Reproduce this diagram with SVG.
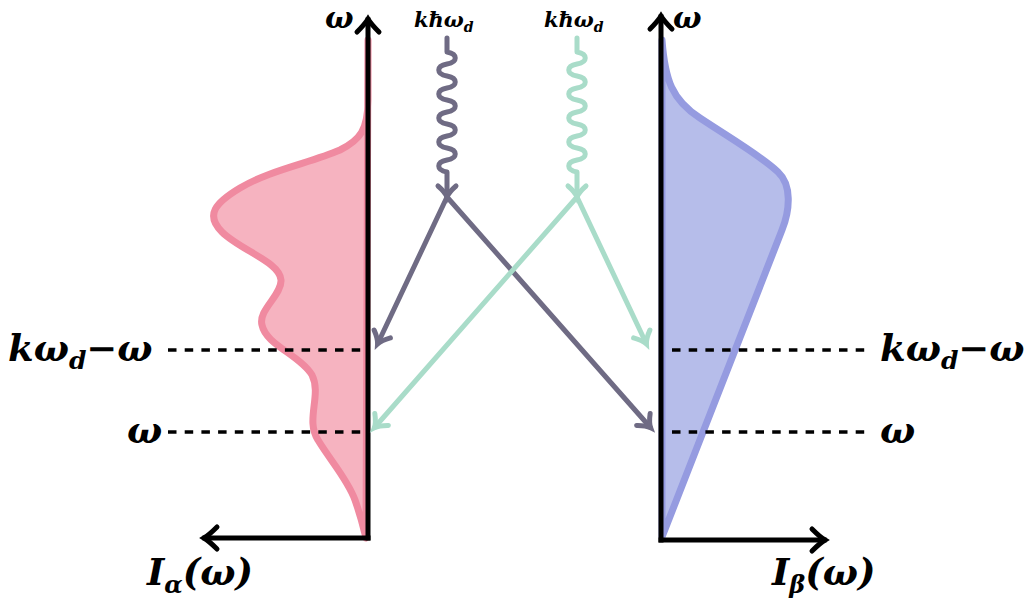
<svg xmlns="http://www.w3.org/2000/svg" width="1036" height="603" viewBox="0 0 1036 603">
<style>
.axis{fill:none;stroke:#000;stroke-width:5;stroke-linecap:square}
.dash{fill:none;stroke:#000;stroke-width:3.5;stroke-dasharray:8.5 8.2}
.m{font-family:"DejaVu Serif","Liberation Serif",serif;font-style:italic;font-weight:bold;fill:#000}
.dk{fill:none;stroke:#6f6b84;stroke-width:5;stroke-linecap:round;stroke-linejoin:round}
.tl{fill:none;stroke:#a9dcc9;stroke-width:5;stroke-linecap:round;stroke-linejoin:round}
</style>
<defs>
<marker id="mb" markerUnits="userSpaceOnUse" markerWidth="30" markerHeight="30" refX="0" refY="0" orient="auto" overflow="visible">
<path d="M-12,-11 Q-4,-3 1,0 Q-4,3 -12,11" fill="none" stroke="#000" stroke-width="5" stroke-linecap="round"/>
</marker>
<marker id="md" markerUnits="userSpaceOnUse" markerWidth="30" markerHeight="30" refX="0" refY="0" orient="auto" overflow="visible">
<path d="M-10,-9 Q-4,-2 1,0 Q-4,2 -10,9" fill="none" stroke="#6f6b84" stroke-width="5" stroke-linecap="round"/>
</marker>
<marker id="mt" markerUnits="userSpaceOnUse" markerWidth="30" markerHeight="30" refX="0" refY="0" orient="auto" overflow="visible">
<path d="M-10,-9 Q-4,-2 1,0 Q-4,2 -10,9" fill="none" stroke="#a9dcc9" stroke-width="5" stroke-linecap="round"/>
</marker>
</defs>

<g id="alpha-spectrum">
<path d="M368 40 L368 100 C368 130 360 140 340 150 C310 163 270 170 240 188 C215 203 205 215 222 232 C240 250 280 262 281 280 C282 295 258 310 262 325 C266 345 300 355 312 375 C322 395 305 420 318 440 C330 460 348 480 355 500 C362 520 364 530 366 538 Z" fill="#f6b3c0" stroke="#f08aa0" stroke-width="7" stroke-linejoin="round"/>
</g>
<g id="beta-spectrum">
<path d="M662 40 C665 80 672 100 700 118 C730 138 760 155 778 172 C792 185 790 210 782 230 L662 537 Z" fill="#b6bdea" stroke="#959be0" stroke-width="7" stroke-linejoin="round"/>
</g>

<g id="levels">
<line class="dash" x1="168" y1="350" x2="365" y2="350"/>
<line class="dash" x1="168" y1="432" x2="365" y2="432"/>
<line class="dash" x1="672" y1="350" x2="868" y2="350"/>
<line class="dash" x1="672" y1="432" x2="868" y2="432"/>
</g>

<g id="axis-alpha">
<path class="axis" d="M368 538 L368 20" marker-end="url(#mb)"/>
<path class="axis" d="M368 538 L205 538" marker-end="url(#mb)"/>
<text class="m" x="325" y="28" font-size="30">ω</text>
<text class="m" x="147" y="585" font-size="37">I<tspan font-size="24" dy="8">α</tspan><tspan dy="-8">(ω)</tspan></text>
<text class="m" x="8" y="361" font-size="37">kω<tspan font-size="25" dy="8">d</tspan><tspan dy="-8">−ω</tspan></text>
<text class="m" x="127" y="443" font-size="37">ω</text>
</g>

<g id="axis-beta">
<path class="axis" d="M661 540 L661 17" marker-end="url(#mb)"/>
<path class="axis" d="M661 540 L824 540" marker-end="url(#mb)"/>
<text class="m" x="673" y="28" font-size="30">ω</text>
<text class="m" x="772" y="585" font-size="37">I<tspan font-size="24" dy="8">β</tspan><tspan dy="-8">(ω)</tspan></text>
<text class="m" x="880" y="361" font-size="37">kω<tspan font-size="25" dy="8">d</tspan><tspan dy="-8">−ω</tspan></text>
<text class="m" x="880" y="443" font-size="37">ω</text>
</g>

<g id="photon-left">
<text class="m" x="414" y="27" font-size="21">kħω<tspan font-size="14" dy="5">d</tspan></text>
</g>
<g id="photon-right">
<text class="m" x="544" y="27" font-size="21">kħω<tspan font-size="14" dy="5">d</tspan></text>
</g>

<g id="connectors">
<path class="dk" d="M447 38 L447 52 c11 2 11 10 0 12 c-11 2 -11 10 0 12 c11 2 11 10 0 12 c-11 2 -11 10 0 12 c11 2 11 10 0 12 c-11 2 -11 10 0 12 c11 2 11 10 0 12 c-11 2 -11 10 0 12 c11 2 11 10 0 12 c-11 2 -11 10 0 12 L447 196" marker-end="url(#md)"/>
<path class="tl" d="M577 38 L577 52 c11 2 11 10 0 12 c-11 2 -11 10 0 12 c11 2 11 10 0 12 c-11 2 -11 10 0 12 c11 2 11 10 0 12 c-11 2 -11 10 0 12 c11 2 11 10 0 12 c-11 2 -11 10 0 12 c11 2 11 10 0 12 c-11 2 -11 10 0 12 L577 196" marker-end="url(#mt)"/>
<line class="dk" x1="447" y1="197" x2="378" y2="343" marker-end="url(#md)"/>
<line class="dk" x1="447" y1="197" x2="650" y2="427" marker-end="url(#md)"/>
<line class="tl" x1="577" y1="197" x2="375" y2="427" marker-end="url(#mt)"/>
<line class="tl" x1="577" y1="197" x2="646" y2="343" marker-end="url(#mt)"/>
</g>
</svg>
